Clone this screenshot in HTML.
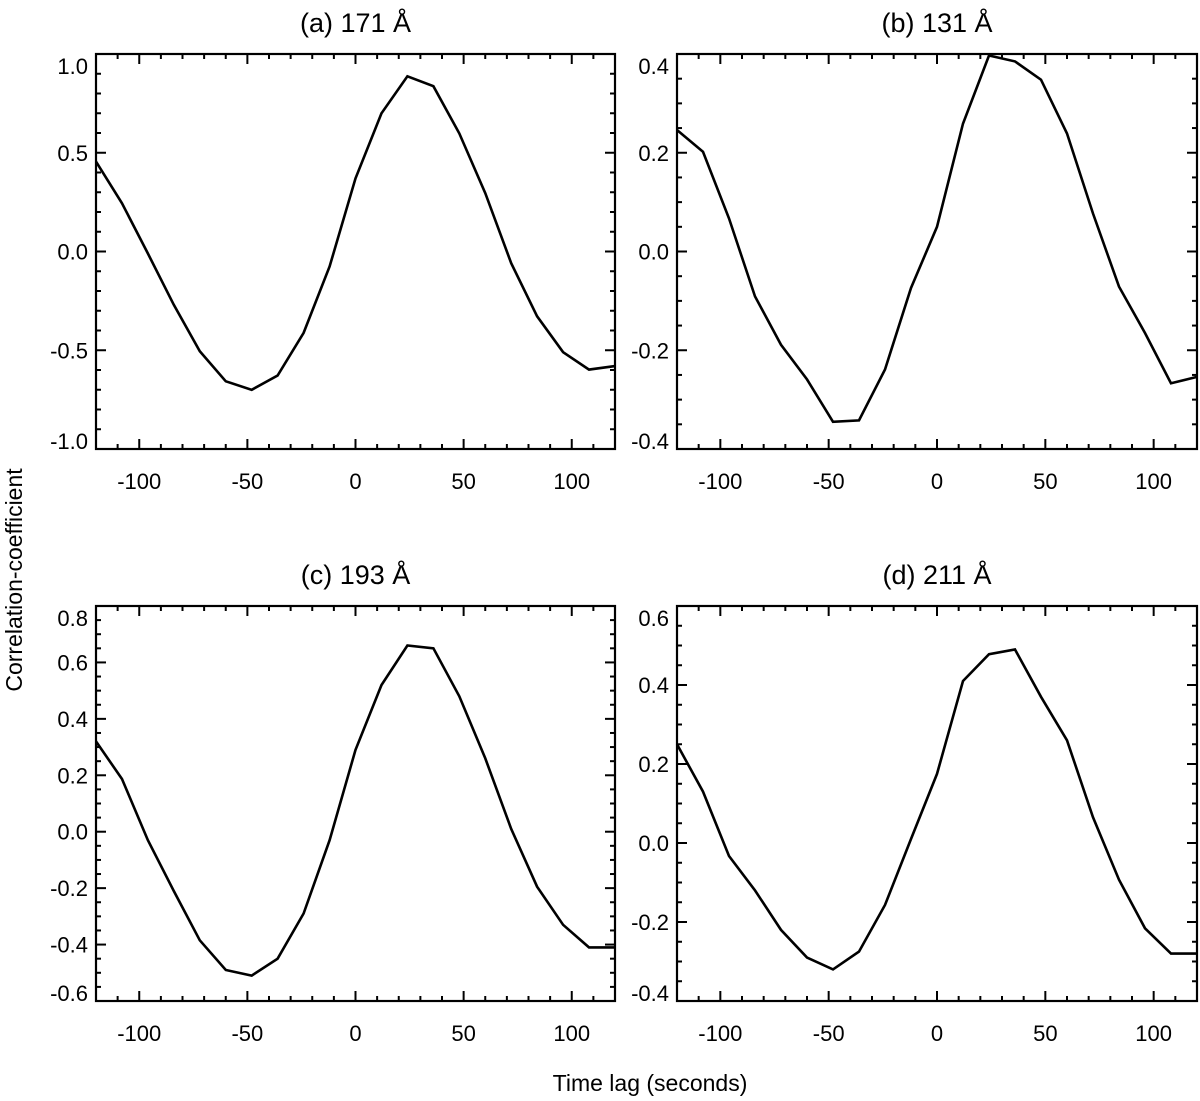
<!DOCTYPE html>
<html><head><meta charset="utf-8"><style>
html,body{margin:0;padding:0;background:#fff;}
svg{display:block;font-family:"Liberation Sans",Arial,sans-serif;}
</style></head><body>
<svg id="chart" width="1200" height="1101" viewBox="0 0 1200 1101" xmlns="http://www.w3.org/2000/svg">
<text x="0" y="0" transform="translate(22,580) rotate(-90)" text-anchor="middle" font-size="23">Correlation-coefficient</text>
<text x="650" y="1091" text-anchor="middle" font-size="23">Time lag (seconds)</text>
</svg>
<script>
const lags = [-120,-108,-96,-84,-72,-60,-48,-36,-24,-12,0,12,24,36,48,60,72,84,96,108,120];
const xTicks = [-100,-50,0,50,100];
const valuesA = [0.455,0.244,-0.01,-0.27,-0.505,-0.657,-0.70,-0.628,-0.412,-0.076,0.37,0.70,0.887,0.837,0.598,0.295,-0.059,-0.328,-0.51,-0.598,-0.58];
const valuesB = [0.246,0.202,0.067,-0.091,-0.189,-0.259,-0.345,-0.342,-0.239,-0.074,0.05,0.259,0.397,0.385,0.348,0.239,0.077,-0.071,-0.165,-0.267,-0.254];
const valuesC = [0.32,0.187,-0.03,-0.21,-0.385,-0.49,-0.51,-0.45,-0.29,-0.03,0.29,0.52,0.66,0.65,0.48,0.26,0.01,-0.195,-0.33,-0.41,-0.41];
const valuesD = [0.25,0.13,-0.033,-0.12,-0.22,-0.29,-0.32,-0.275,-0.157,0.01,0.175,0.41,0.478,0.49,0.37,0.26,0.065,-0.093,-0.216,-0.28,-0.28];
const yTicksA = [-1.0,-0.5,0.0,0.5,1.0];
const yTicksB = [-0.4,-0.2,0.0,0.2,0.4];
const yTicksC = [-0.6,-0.4,-0.2,0.0,0.2,0.4,0.6,0.8];
const yTicksD = [-0.4,-0.2,0.0,0.2,0.4,0.6];
const titles = ["(a) 171 Å","(b) 131 Å","(c) 193 Å","(d) 211 Å"];

const NS = "http://www.w3.org/2000/svg";
const svg = document.getElementById('chart');
function mk(tag, attrs, parent){const e=document.createElementNS(NS,tag);for(const k in attrs)e.setAttribute(k,attrs[k]);(parent||svg).appendChild(e);return e;}

const panels = [
 {id:'a',L:96,R:615,T:54,B:449,ymin:-1,ymax:1,minor:0.1,vals:valuesA,ticks:yTicksA,title:titles[0]},
 {id:'b',L:677,R:1197,T:54,B:449,ymin:-0.4,ymax:0.4,minor:0.05,vals:valuesB,ticks:yTicksB,title:titles[1]},
 {id:'c',L:96,R:615,T:606,B:1001,ymin:-0.6,ymax:0.8,minor:0.05,vals:valuesC,ticks:yTicksC,title:titles[2]},
 {id:'d',L:677,R:1197,T:606,B:1001,ymin:-0.4,ymax:0.6,minor:0.05,vals:valuesD,ticks:yTicksD,title:titles[3]}
];

panels.forEach(p=>{
  const g = mk('g',{});
  
  
  const xs = v => p.L + (v+120)/240*(p.R-p.L);
  const ys = v => p.B - (v-p.ymin)/(p.ymax-p.ymin)*(p.B-p.T);
  const t = mk('text',{x:(p.L+p.R)/2,y:p.T-22,'text-anchor':'middle','font-size':'27'},g);
  
  
  t.textContent = p.title;
  for(let v=-120; v<=120; v+=10){
    const major = v%50===0;
    const len = major?10:5;
    const x = xs(v);
    mk('line',{x1:x,x2:x,y1:p.B,y2:p.B-len,stroke:'#000','stroke-width':2},g);
    mk('line',{x1:x,x2:x,y1:p.T,y2:p.T+len,stroke:'#000','stroke-width':2},g);
  }
  xTicks.forEach(v=>{
    const tx = mk('text',{x:xs(v),y:p.B+40,'text-anchor':'middle','font-size':'22'},g);
    
    
    tx.textContent = String(v);
  });
  const n = Math.round((p.ymax-p.ymin)/p.minor);
  for(let i=0;i<=n;i++){
    const v = p.ymin + i*p.minor;
    const major = p.ticks.some(tk=>Math.abs(tk-v)<1e-6);
    const len = major?10:5;
    const y = ys(v);
    mk('line',{x1:p.L,x2:p.L+len,y1:y,y2:y,stroke:'#000','stroke-width':2},g);
    mk('line',{x1:p.R,x2:p.R-len,y1:y,y2:y,stroke:'#000','stroke-width':2},g);
  }
  p.ticks.forEach(v=>{
    let y = ys(v)+8;
    y = Math.max(p.T+20, Math.min(p.B, y));
    const ty = mk('text',{x:p.L-8,y:y,'text-anchor':'end','font-size':'22'},g);
    
    
    ty.textContent = v.toFixed(1);
  });
  const box = mk('rect',{x:p.L,y:p.T,width:p.R-p.L,height:p.B-p.T,fill:'none',stroke:'#000','stroke-width':2.2},g);
  
  
  const pts = p.vals.map((v,i)=>xs(lags[i]).toFixed(1)+','+ys(v).toFixed(1)).join(' ');
  const line = mk('polyline',{points:pts,fill:'none',stroke:'#000','stroke-width':2.6,'stroke-linejoin':'miter'},g);
  
  
});
</script>
</body></html>
